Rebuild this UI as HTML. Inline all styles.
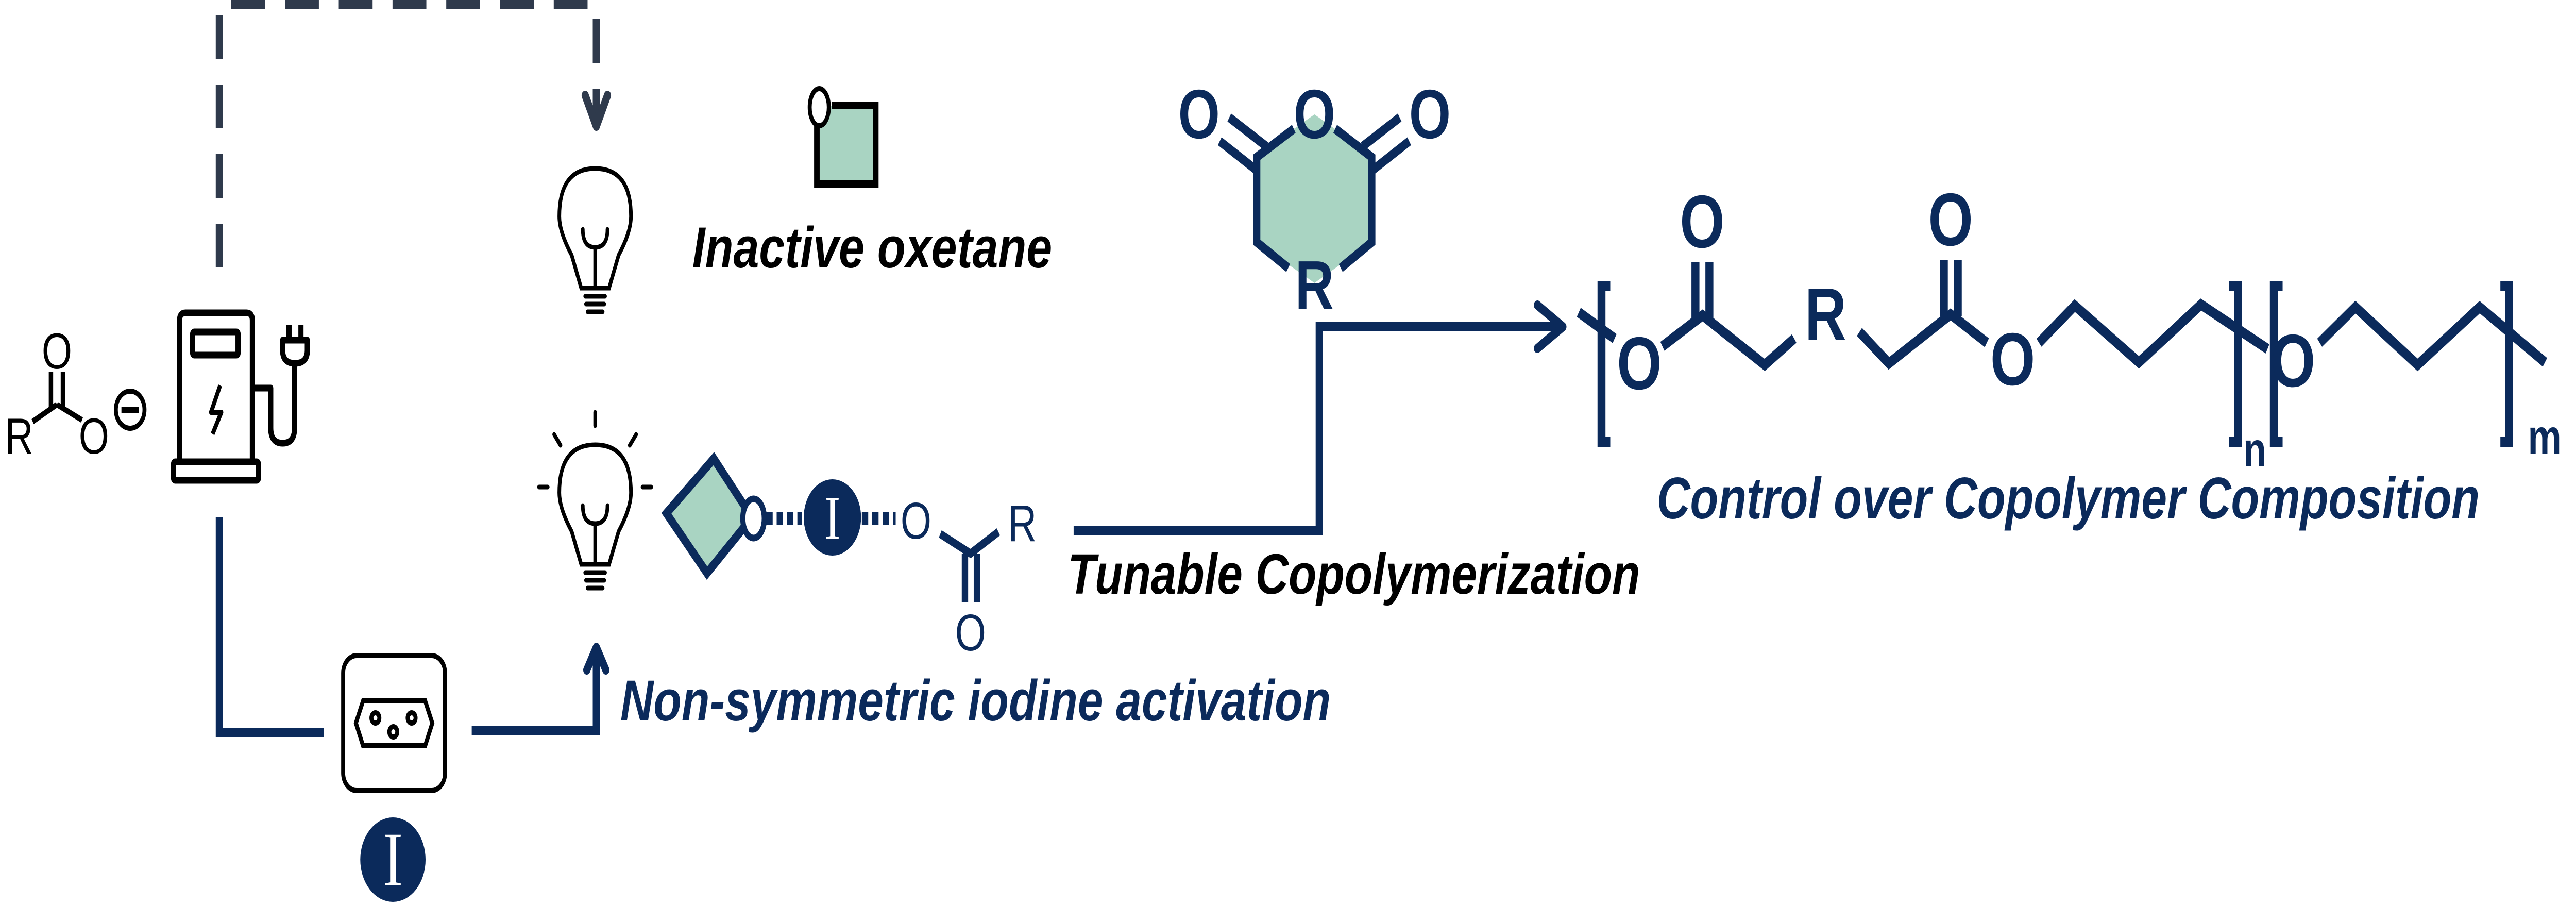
<!DOCTYPE html>
<html><head><meta charset="utf-8"><style>
html,body{margin:0;padding:0;background:#fff;width:100%;height:100%;overflow:hidden;}
svg{display:block;width:100vw;height:100vh;}
</style></head><body>
<svg viewBox="0 0 6471 1789" preserveAspectRatio="none" xmlns="http://www.w3.org/2000/svg" font-family="'Liberation Sans', Arial, sans-serif">
<rect width="6471" height="1789" fill="#fff"/>

<!-- dashed feedback path -->
<g stroke="#2f3a4c" stroke-width="18" fill="none">
  <path d="M551 519 V9 H1498 V235" stroke-dasharray="85 50"/>
  <path d="M1470 185 L1498 245 L1526 185" stroke-linecap="round" stroke-linejoin="round"/>
</g>

<!-- carboxylate -->
<g font-size="98" fill="#000">
  <text x="143" y="715" text-anchor="middle">O</text>
  <text x="48" y="880" text-anchor="middle">R</text>
  <text x="236" y="880" text-anchor="middle">O</text>
</g>
<g stroke="#000" stroke-width="11" fill="none">
  <line x1="82" y1="818" x2="143" y2="785"/>
  <line x1="143" y1="785" x2="206" y2="815"/>
  <line x1="128" y1="722" x2="128" y2="790"/>
  <line x1="158" y1="722" x2="158" y2="790"/>
  <circle cx="327" cy="795" r="36" stroke-width="10"/>
  <line x1="305" y1="795" x2="349" y2="795" stroke-width="12"/>
</g>

<!-- fuel pump -->
<g stroke="#000" stroke-width="13" fill="none" stroke-linejoin="round">
  <path d="M451 893 V622 Q451 607 466 607 H619 Q634 607 634 622 V893"/>
  <rect x="436" y="896" width="213" height="36" rx="4"/>
  <rect x="484" y="644" width="114" height="45" rx="4"/>
  <path d="M634 753 H680 V830 Q680 860 710 860 Q740 860 740 830 V705"/>
  <path d="M710 660 H772 V680 Q772 705 741 705 Q710 705 710 680 Z"/>
  <line x1="726" y1="660" x2="726" y2="630"/>
  <line x1="756" y1="660" x2="756" y2="630"/>
  <path d="M553 748 L530 800 H556 L534 842" stroke-width="10"/>
</g>

<!-- navy solid connectors -->
<g stroke="#0b2a5b" stroke-width="18" fill="none">
  <path d="M551 1004 V1422 H813"/>
  <path d="M1185 1418 H1498 V1262"/>
  <path d="M1474 1300 L1498 1256 L1522 1300" stroke-linecap="round" stroke-linejoin="round"/>
</g>

<!-- socket -->
<g stroke="#000" stroke-width="10" fill="none">
  <rect x="862" y="1272" width="256" height="262" rx="34"/>
  <path d="M912 1360 H1068 L1086 1403 L1068 1447 H912 L894 1403 Z"/>
  <circle cx="943" cy="1393" r="10"/>
  <circle cx="1034" cy="1393" r="10"/>
  <circle cx="988" cy="1420" r="10"/>
</g>

<!-- I circle bottom -->
<ellipse cx="987" cy="1668" rx="82" ry="82" fill="#0b2a5b"/>
<text x="987" y="1718" text-anchor="middle" font-family="'Liberation Serif', serif" font-size="150" fill="#fff">I</text>

<!-- bulb 1 -->
<g stroke="#000" stroke-width="9" fill="none" stroke-linecap="round">
  <path d="M1460 559 L1436 495 Q1405 450 1405 420 Q1405 327 1495 327 Q1585 327 1585 420 Q1585 450 1554 495 L1530 559 Z"/>
  <path d="M1464 445 Q1464 480 1495 480 Q1526 480 1526 445 M1495 480 V555"/>
  <line x1="1470" y1="575" x2="1520" y2="575"/>
  <line x1="1472" y1="590" x2="1518" y2="590"/>
  <line x1="1476" y1="605" x2="1514" y2="605"/>
</g>
<!-- bulb 2 -->
<g stroke="#000" stroke-width="9" fill="none" stroke-linecap="round">
  <path d="M1460 1095 L1436 1031 Q1405 986 1405 956 Q1405 863 1495 863 Q1585 863 1585 956 Q1585 986 1554 1031 L1530 1095 Z"/>
  <path d="M1464 981 Q1464 1016 1495 1016 Q1526 1016 1526 981 M1495 1016 V1091"/>
  <line x1="1470" y1="1111" x2="1520" y2="1111"/>
  <line x1="1472" y1="1126" x2="1518" y2="1126"/>
  <line x1="1476" y1="1141" x2="1514" y2="1141"/>
  <line x1="1495" y1="800" x2="1495" y2="826"/>
  <line x1="1392" y1="843" x2="1408" y2="864"/>
  <line x1="1598" y1="843" x2="1582" y2="864"/>
  <line x1="1354" y1="945" x2="1376" y2="945"/>
  <line x1="1614" y1="945" x2="1636" y2="945"/>
</g>

<!-- inactive oxetane -->
<rect x="2052" y="205" width="148" height="152" fill="#a9d4c2"/>
<path d="M2090 204 H2200 V357 H2052 V240" stroke="#000" stroke-width="14" fill="none"/>
<ellipse cx="2058" cy="208" rx="24" ry="36" fill="#fff" stroke="#000" stroke-width="10"/>
<text x="1739" y="519" font-size="112" font-weight="bold" font-style="italic" fill="#000" textLength="904" lengthAdjust="spacingAndGlyphs">Inactive oxetane</text>

<!-- activated complex -->
<path d="M1674 996 L1793 890 L1889 1004 L1776 1112 Z" fill="#a9d4c2" stroke="#0b2a5b" stroke-width="18" stroke-linejoin="miter"/>
<ellipse cx="1893" cy="1006" rx="27" ry="38" fill="#fff" stroke="#0b2a5b" stroke-width="13"/>
<line x1="1925" y1="1006" x2="2015" y2="1006" stroke="#0b2a5b" stroke-width="26" stroke-dasharray="16 10"/>
<ellipse cx="2091" cy="1004" rx="72" ry="74" fill="#0b2a5b"/>
<text x="2091" y="1045" text-anchor="middle" font-family="'Liberation Serif', serif" font-size="120" fill="#fff">I</text>
<line x1="2165" y1="1006" x2="2250" y2="1006" stroke="#0b2a5b" stroke-width="26" stroke-dasharray="16 10"/>
<g font-size="100" fill="#0b2a5b" text-anchor="middle">
  <text x="2301" y="1045">O</text>
  <text x="2568" y="1050">R</text>
  <text x="2438" y="1262">O</text>
</g>
<g stroke="#0b2a5b" stroke-width="16" fill="none">
  <path d="M2362 1036 L2438 1074 L2508 1032"/>
  <line x1="2424" y1="1074" x2="2424" y2="1168"/>
  <line x1="2454" y1="1074" x2="2454" y2="1168"/>
</g>
<text x="1558" y="1398" font-size="112" font-weight="bold" font-style="italic" fill="#0b2a5b" textLength="1785" lengthAdjust="spacingAndGlyphs">Non-symmetric iodine activation</text>

<!-- main connector -->
<g stroke="#0b2a5b" stroke-width="18" fill="none">
  <path d="M2697 1030 H3314 V634 H3920"/>
  <path d="M3862 592 L3926 634 L3862 676" stroke-linecap="round" stroke-linejoin="round"/>
</g>
<text x="2682" y="1152" font-size="110" font-weight="bold" font-style="italic" fill="#000" textLength="1438" lengthAdjust="spacingAndGlyphs">Tunable Copolymerization</text>

<!-- anhydride -->
<polygon points="3302,222 3157,301 3157,470 3302,549 3446,470 3446,301" fill="#a9d4c2"/>
<g stroke="#0b2a5b" stroke-width="18" fill="none">
  <path d="M3250 250 L3157 305 V470 L3236 520"/>
  <path d="M3354 250 L3446 305 V470 L3368 520"/>
  <line x1="3064" y1="274" x2="3159" y2="332"/>
  <line x1="3088" y1="228" x2="3181" y2="284"/>
  <line x1="3540" y1="274" x2="3445" y2="332"/>
  <line x1="3516" y1="228" x2="3423" y2="284"/>
</g>
<g font-size="135" font-weight="bold" fill="#0b2a5b" text-anchor="middle">
  <text x="3012" y="268">O</text>
  <text x="3302" y="268">O</text>
  <text x="3592" y="268">O</text>
  <text x="3302" y="600">R</text>
</g>

<!-- polymer -->
<g stroke="#0b2a5b" stroke-width="20" fill="none">
  <line x1="3966" y1="606" x2="4056" y2="657"/>
  <path d="M4045 555 H4023 V858 H4045"/>
  <path d="M4176 672 L4277 612 L4433 708 L4507 657"/>
  <line x1="4259" y1="509" x2="4259" y2="619"/>
  <line x1="4294" y1="509" x2="4294" y2="619"/>
  <path d="M4671 644 L4745 705 L4900 610 L4991 665"/>
  <line x1="4883" y1="504" x2="4883" y2="614"/>
  <line x1="4918" y1="504" x2="4918" y2="614"/>
  <path d="M5122 665 L5212 593 L5373 703 L5529 591 L5696 677"/>
  <path d="M5600 555 H5622 V858 H5600"/>
  <path d="M5734 555 H5712 V858 H5734"/>
  <path d="M5827 665 L5917 596 L6073 708 L6229 596 L6393 703"/>
  <path d="M6281 555 H6303 V858 H6281"/>
</g>
<g font-size="145" fill="#0b2a5b" text-anchor="middle" font-weight="bold">
  <text x="4118" y="755">O</text>
  <text x="4276" y="480">O</text>
  <text x="4900" y="476">O</text>
  <text x="4586" y="660">R</text>
  <text x="5056" y="747">O</text>
  <text x="5760" y="750">O</text>
</g>
<g font-size="95" fill="#0b2a5b" font-weight="bold">
  <text x="5635" y="905">n</text>
  <text x="6350" y="880">m</text>
</g>
<text x="4162" y="1006" font-size="114" font-weight="bold" font-style="italic" fill="#0b2a5b" textLength="2067" lengthAdjust="spacingAndGlyphs">Control over Copolymer Composition</text>
</svg>
</body></html>
